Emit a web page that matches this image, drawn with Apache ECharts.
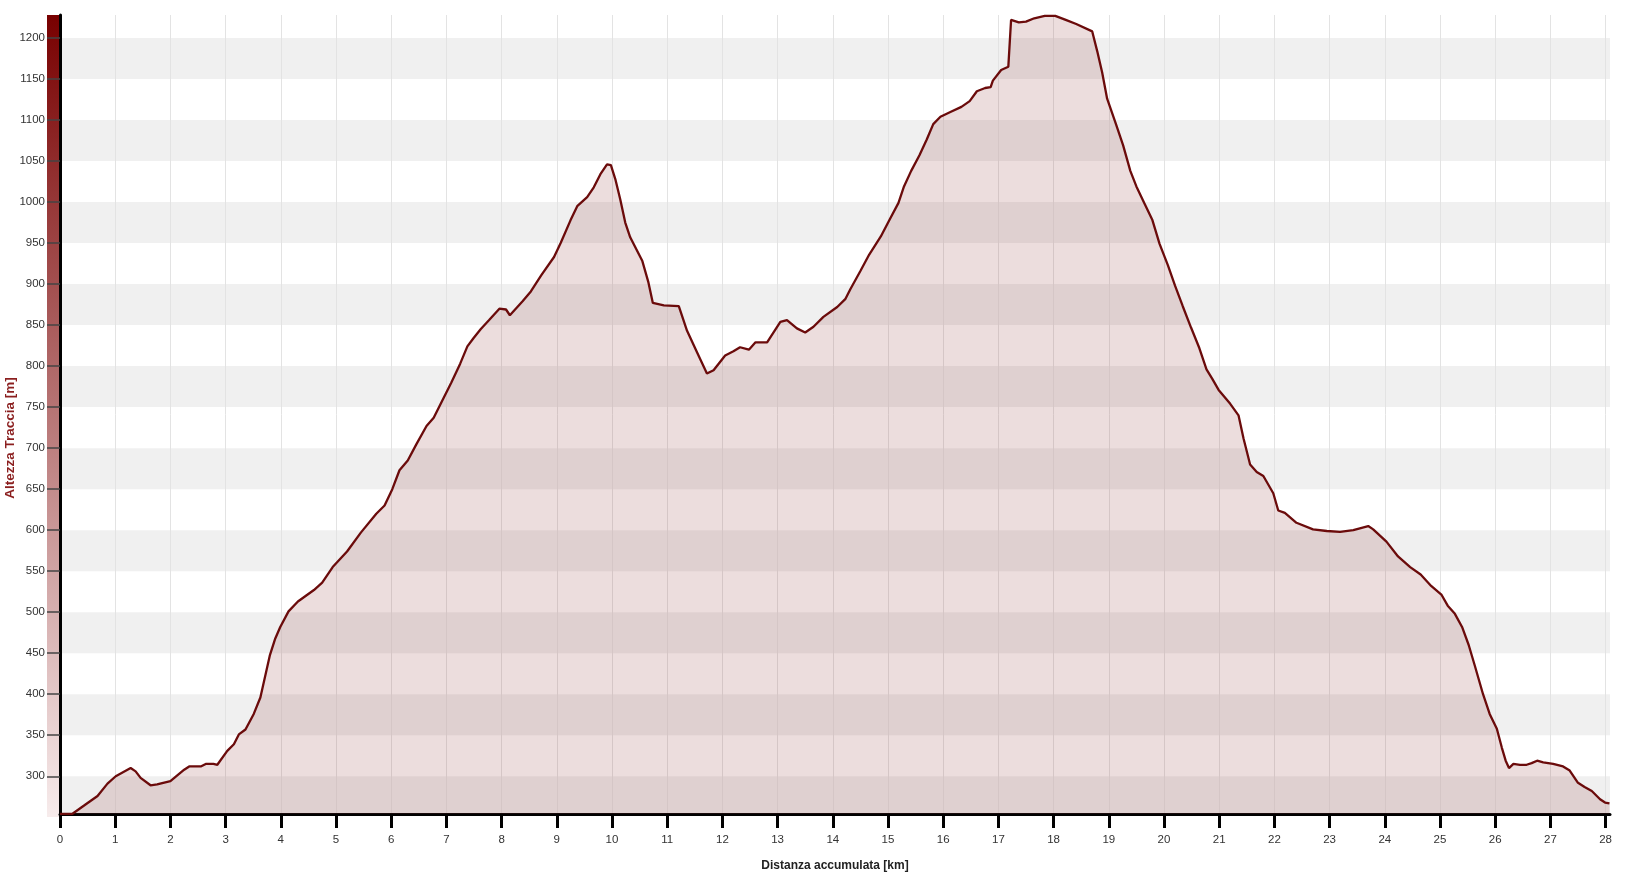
<!DOCTYPE html>
<html><head><meta charset="utf-8">
<script src="https://cdn.jsdelivr.net/npm/echarts@6/dist/echarts.min.js"></script>
<style>html,body{margin:0;padding:0;background:#fff}#c{width:1638px;height:877px}</style>
</head><body><div id="c"></div>
<script>
// ---- data ----
const distanceKm = [0,0.22,0.43,0.68,0.86,1.01,1.28,1.37,1.46,1.64,1.76,2.0,2.25,2.34,2.55,2.64,2.66,2.78,2.85,3.03,3.15,3.24,3.36,3.51,3.63,3.8,3.9,3.99,4.14,4.31,4.6,4.75,4.94,5.2,5.45,5.73,5.88,6.02,6.15,6.3,6.45,6.64,6.77,6.94,7.09,7.25,7.38,7.49,7.62,7.77,7.96,8.08,8.15,8.38,8.53,8.72,8.95,9.07,9.25,9.37,9.55,9.67,9.79,9.91,9.98,10.06,10.15,10.24,10.33,10.55,10.66,10.74,10.94,11.21,11.36,11.54,11.72,11.84,12.05,12.2,12.32,12.48,12.6,12.81,13.05,13.17,13.35,13.5,13.65,13.83,14.08,14.23,14.32,14.5,14.66,14.87,15.04,15.19,15.29,15.42,15.57,15.7,15.82,15.95,16.14,16.33,16.48,16.61,16.76,16.86,16.9,17.05,17.18,17.23,17.37,17.5,17.65,17.84,18.03,18.22,18.41,18.7,18.79,18.88,18.97,19.13,19.26,19.39,19.5,19.64,19.79,19.92,20.07,20.2,20.34,20.49,20.64,20.77,20.87,20.99,21.2,21.35,21.44,21.56,21.68,21.8,21.98,22.07,22.19,22.4,22.7,22.95,23.19,23.43,23.7,23.79,24.03,24.24,24.46,24.65,24.84,25.03,25.14,25.27,25.4,25.52,25.63,25.78,25.9,26.03,26.12,26.19,26.25,26.33,26.45,26.57,26.66,26.76,26.87,27.05,27.23,27.35,27.5,27.62,27.75,27.9,27.99,28.07];
const elevationM = [254,254,264,276,291,300,310,306,298,289,290,294,308,312,312,315,317,315,314,331,339,351,357,376,396,447,468,482,501,513,527,536,555,574,597,620,630,650,673,685,704,727,737,760,780,803,824,834,845,856,870,869,862,879,891,911,933,950,978,995,1006,1018,1034,1046,1045,1028,1003,975,957,928,902,877,874,873,843,817,791,795,813,818,823,820,829,829,854,856,846,841,848,860,872,882,894,916,936,958,980,999,1019,1038,1057,1076,1095,1104,1110,1116,1123,1135,1139,1140,1148,1161,1165,1222,1219,1220,1224,1227,1227,1222,1217,1208,1184,1158,1126,1095,1069,1038,1019,999,978,949,923,898,873,847,822,796,785,771,754,740,712,680,671,666,645,624,621,609,601,599,598,600,605,601,586,568,555,546,532,521,508,498,482,460,435,400,376,358,335,319,310,315,314,314,316,319,317,315,312,307,292,287,282,272,268,267];
const xTicks = [0,1,2,3,4,5,6,7,8,9,10,11,12,13,14,15,16,17,18,19,20,21,22,23,24,25,26,27,28];
const yTicks = [300,350,400,450,500,550,600,650,700,750,800,850,900,950,1000,1050,1100,1150,1200];
const yMin = 254, yMax = 1228, xMax = 28.08;
const xTitle = 'Distanza accumulata [km]';
const yTitle = 'Altezza Traccia [m]';

// ---- layout / style ----
const W = 1638, H = 877;
const G = {left: 60, right: 28, top: 15, bottom: 60};
const FONT = '"Liberation Sans", Arial, sans-serif';

const points = distanceKm.map((d, i) => [d, elevationM[i]]);

// alternating background bands derived from tick values
const bands = [[{yAxis: yMin}, {yAxis: yTicks[0]}]];
for (let i = 1; i + 1 < yTicks.length; i += 2) {
  bands.push([{yAxis: yTicks[i]}, {yAxis: yTicks[i + 1]}]);
}

const chart = echarts.init(document.getElementById('c'), null, {renderer: 'canvas'});
chart.setOption({
  animation: false,
  backgroundColor: '#ffffff',
  grid: {left: G.left, right: G.right, top: G.top, bottom: G.bottom, containLabel: false},
  xAxis: {
    type: 'value', min: 0, max: xMax, interval: 1, z: 2,
    name: xTitle, nameLocation: 'middle', nameGap: 46,
    nameTextStyle: {fontFamily: FONT, fontSize: 12, fontWeight: 'bold', color: '#222'},
    axisLine: {show: true, onZero: false, lineStyle: {color: '#000', width: 3}},
    axisTick: {show: true, length: 14, lineStyle: {color: '#000', width: 3}, customValues: xTicks},
    axisLabel: {margin: 20, fontFamily: FONT, fontSize: 11.5, color: '#333', customValues: xTicks,
                formatter: v => String(v)},
    splitLine: {show: true, lineStyle: {color: '#e3e3e3', width: 1}}
  },
  yAxis: {
    type: 'value', min: yMin, max: yMax, z: 2,
    axisLine: {show: true, onZero: false, lineStyle: {color: '#000', width: 3}},
    axisTick: {show: true, length: 13, lineStyle: {color: '#444', width: 1.5}, customValues: yTicks},
    axisLabel: {margin: 15, fontFamily: FONT, fontSize: 11.5, color: '#333', customValues: yTicks,
                formatter: v => String(v)},
    splitLine: {show: false}
  },
  graphic: [
    {
      type: 'rect', z: 1,
      shape: {x: G.left - 13, y: G.top, width: 12, height: H - G.top - G.bottom},
      style: {fill: new echarts.graphic.LinearGradient(0, 0, 0, 1, [
        {offset: 0, color: '#780000'},
        {offset: 1, color: '#f7ecec'}
      ])}
    },
    {
      type: 'text', z: 3, x: 10, y: 438, rotation: Math.PI / 2,
      style: {text: yTitle, fontFamily: FONT, fontSize: 13.5, fontWeight: 'bold', fill: '#8b1f1f',
              textAlign: 'center', textVerticalAlign: 'middle'}
    }
  ],
  series: [
    {
      type: 'line', z: 1, data: [], silent: true,
      markArea: {silent: true, z: 1, itemStyle: {color: '#f0f0f0'}, data: bands}
    },
    {
      type: 'line', z: 3, data: points, showSymbol: false, smooth: false,
      lineStyle: {color: '#6b0b0b', width: 2.3},
      areaStyle: {color: 'rgba(150,60,60,0.25)', origin: 'start'}
    }
  ]
});
</script>
</body></html>
